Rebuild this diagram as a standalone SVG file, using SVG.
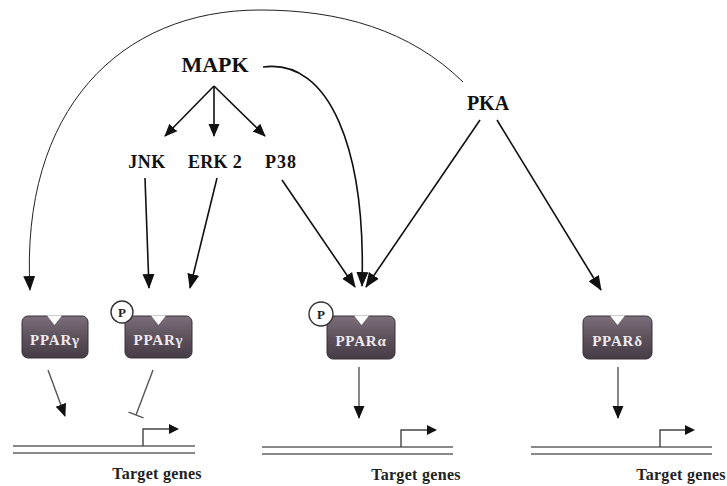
<svg xmlns="http://www.w3.org/2000/svg" width="727" height="486" viewBox="0 0 727 486">
<defs>
<marker id="ah" markerUnits="userSpaceOnUse" markerWidth="15" markerHeight="15" viewBox="0 0 15 15" refX="14" refY="7.5" orient="auto">
<path d="M0,1.5 L15,7.5 L0,13.5 Z" fill="#111"/>
</marker>
<marker id="ahs" markerUnits="userSpaceOnUse" markerWidth="13" markerHeight="13" viewBox="0 0 13 13" refX="12" refY="6.5" orient="auto">
<path d="M0,1 L13,6.5 L0,12 Z" fill="#111"/>
</marker>
<linearGradient id="box" x1="0" y1="0" x2="0" y2="1">
<stop offset="0" stop-color="#7a6f7a"/>
<stop offset="0.5" stop-color="#5d525c"/>
<stop offset="1" stop-color="#463c45"/>
</linearGradient>
</defs>
<style>
.lbl{font-family:"Liberation Serif","Times New Roman",serif;font-weight:bold;fill:#111;text-anchor:middle}
.ppar{font-family:"Liberation Serif","Times New Roman",serif;font-weight:bold;fill:#eeeaf0;text-anchor:middle;font-size:15px;letter-spacing:0.8px}
.tg{font-family:"Liberation Serif","Times New Roman",serif;font-weight:bold;fill:#222;text-anchor:middle;font-size:16px;letter-spacing:0.3px}
.bx{fill:url(#box);stroke:#3a3139;stroke-width:1}
.notch{fill:#fff}
.pc{fill:#fff;stroke:#333;stroke-width:1.4}
.pt{font-family:"Liberation Serif","Times New Roman",serif;font-weight:bold;fill:#222;text-anchor:middle;font-size:13px}
.c{fill:none;stroke:#111;stroke-width:1.6}
.thin{fill:none;stroke:#222;stroke-width:1}
.g{fill:none;stroke:#555;stroke-width:1.4}
.dna{fill:none;stroke:#8a8a8a;stroke-width:2}
.prom{fill:none;stroke:#444;stroke-width:1.4}
</style>
<rect width="727" height="486" fill="#fff"/>

<g id="connectors">
<path class="thin" d="M463,82 C410,30 340,10 260,10 C120,10 20,110 30,290" marker-end="url(#ah)"/>
<path class="c" d="M214,86 L165,136" marker-end="url(#ahs)"/>
<path class="c" d="M214,86 L214,136" marker-end="url(#ahs)"/>
<path class="c" d="M214,86 L265,136" marker-end="url(#ahs)"/>
<path class="c" d="M263,67 C330,58 366,150 362,286" marker-end="url(#ah)"/>
<path class="c" d="M145,178 L149,288" marker-end="url(#ah)"/>
<path class="c" d="M217,178 L190,288" marker-end="url(#ah)"/>
<path class="c" d="M282,180 L355,287" marker-end="url(#ah)"/>
<path class="c" d="M480,120 L366,287" marker-end="url(#ah)"/>
<path class="c" d="M497,120 L601,290" marker-end="url(#ah)"/>
<path class="g" d="M48,370 L65,416" marker-end="url(#ahs)"/>
<path class="g" d="M153,370 L136,415"/>
<path class="g" d="M128.5,412.2 L143.5,417.8" stroke-width="1.8"/>
<path class="g" d="M359,367 L359,418" marker-end="url(#ahs)"/>
<path class="g" d="M618,367 L618,418" marker-end="url(#ahs)"/>
</g>

<g id="MAPK"><text class="lbl" x="215" y="72" font-size="22">MAPK</text></g>
<g id="PKA"><text class="lbl" x="488" y="110" font-size="20">PKA</text></g>
<g id="JNK"><text class="lbl" x="147" y="168" font-size="18" letter-spacing="0.5">JNK</text></g>
<g id="ERK2"><text class="lbl" x="215" y="168" font-size="18" letter-spacing="0.3">ERK 2</text></g>
<g id="P38"><text class="lbl" x="281" y="168" font-size="18" letter-spacing="1">P38</text></g>

<g id="PPARg1">
<rect class="bx" x="22" y="316" width="66" height="42" rx="6"/>
<path class="notch" d="M47,315.5 L62,315.5 L54.5,325 Z"/>
<text class="ppar" x="55" y="345">PPARγ</text>
</g>
<g id="PPARg2">
<rect class="bx" x="125" y="316" width="67" height="42" rx="6"/>
<path class="notch" d="M151,315.5 L166,315.5 L158.5,325 Z"/>
<text class="ppar" x="158.5" y="345">PPARγ</text>
<circle class="pc" cx="122" cy="312" r="11"/>
<text class="pt" x="122" y="317">P</text>
</g>
<g id="PPARa">
<rect class="bx" x="327" y="316" width="68" height="43" rx="6"/>
<path class="notch" d="M354,315.5 L369,315.5 L361.5,325 Z"/>
<text class="ppar" x="361" y="346">PPARα</text>
<circle class="pc" cx="321" cy="314" r="12"/>
<text class="pt" x="321" y="319">P</text>
</g>
<g id="PPARd">
<rect class="bx" x="583" y="316" width="69" height="43" rx="6"/>
<path class="notch" d="M610,315.5 L625,315.5 L617.5,325 Z"/>
<text class="ppar" x="617.5" y="346">PPARδ</text>
</g>

<g id="gene1">
<path class="dna" d="M13,446 L195,446 M13,453 L195,453"/>
<path class="prom" d="M143,446 L143,429 L170,429"/>
<path d="M169,424 L179,429 L169,434 Z" fill="#111"/>
<text class="tg" x="157" y="479">Target genes</text>
</g>
<g id="gene2">
<path class="dna" d="M262,447 L453,447 M262,454 L453,454"/>
<path class="prom" d="M401,447 L401,430 L428,430"/>
<path d="M427,425 L437,430 L427,435 Z" fill="#111"/>
<text class="tg" x="416" y="480">Target genes</text>
</g>
<g id="gene3">
<path class="dna" d="M531,447 L712,447 M531,454 L712,454"/>
<path class="prom" d="M660,447 L660,430 L686,430"/>
<path d="M685,425 L695,430 L685,435 Z" fill="#111"/>
<text class="tg" x="681" y="480">Target genes</text>
</g>
</svg>
